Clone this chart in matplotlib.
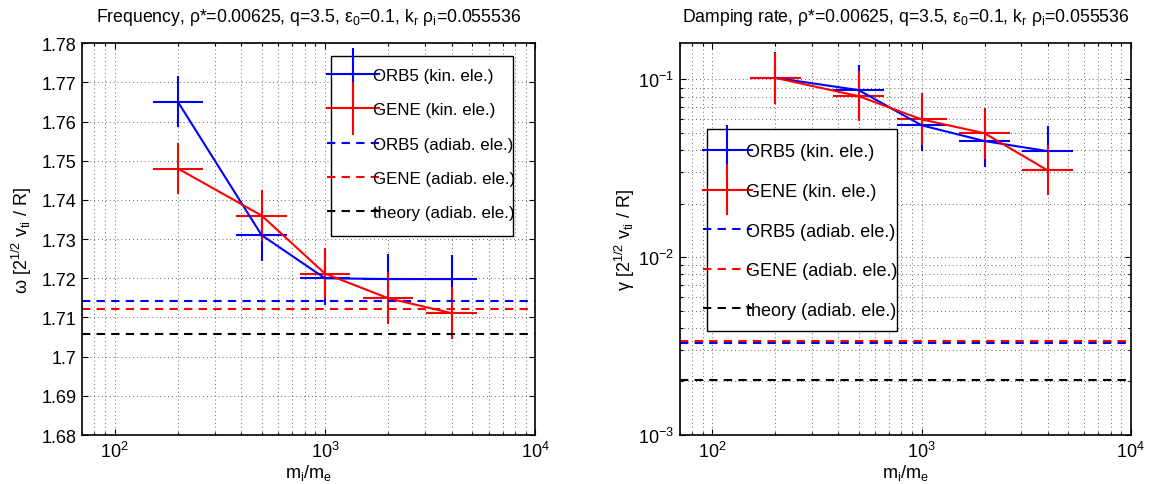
import numpy as np
import matplotlib
matplotlib.use("Agg")
import matplotlib.pyplot as plt
from matplotlib.container import ErrorbarContainer
from matplotlib.legend_handler import HandlerErrorbar
from matplotlib.patches import Rectangle
from matplotlib.ticker import FuncFormatter, LogLocator, MultipleLocator, NullFormatter

plt.rcParams['font.family'] = ['Liberation Sans', 'DejaVu Sans']
plt.rcParams['mathtext.default'] = 'regular'
plt.rcParams['font.size'] = 13

# -----------------------------------------
# data
# -----------------------------------------
mass_ratio = np.array([200, 500, 1000, 2000, 4000])
mass_lo = np.array([152, 379, 759, 1517, 3035])
mass_hi = np.array([264, 659, 1318, 2636, 5272])

# frequency (left)
omega_orb5 = np.array([1.765, 1.731, 1.720, 1.7198, 1.7198])
omega_orb5_err = np.array([0.0065, 0.0065, 0.0068, 0.0063, 0.0062])
omega_gene = np.array([1.748, 1.736, 1.7212, 1.7149, 1.7111])
omega_gene_err = np.array([0.0065, 0.0065, 0.0064, 0.0066, 0.0066])
omega_orb5_adiab = 1.7141
omega_gene_adiab = 1.7121
omega_theory = 1.7058

# damping rate (right)
gamma_orb5 = np.array([0.102, 0.0871, 0.0552, 0.0450, 0.0395])
gamma_orb5_lo = np.array([0.073, 0.058, 0.0395, 0.0323, 0.0286])
gamma_orb5_hi = np.array([0.143, 0.121, 0.078, 0.0622, 0.055])
gamma_gene = np.array([0.102, 0.0805, 0.0596, 0.0498, 0.0308])
gamma_gene_lo = np.array([0.0724, 0.058, 0.0426, 0.0356, 0.0223])
gamma_gene_hi = np.array([0.141, 0.111, 0.0834, 0.0693, 0.0426])
gamma_orb5_adiab = 0.00330
gamma_gene_adiab = 0.00336
gamma_theory = 0.00205

labels = ['ORB5 (kin. ele.)', 'GENE (kin. ele.)', 'ORB5 (adiab. ele.)',
          'GENE (adiab. ele.)', 'theory (adiab. ele.)']

dash = (0, (4, 3))
xerr = [mass_ratio - mass_lo, mass_hi - mass_ratio]


def style_axes(ax, ylog):
    ax.set_xscale('log')
    ax.set_xlim(70, 1e4)
    ax.xaxis.set_major_locator(LogLocator(base=10, numticks=10))
    ax.xaxis.set_minor_locator(LogLocator(base=10, subs=np.arange(2, 10), numticks=20))
    ax.xaxis.set_minor_formatter(NullFormatter())
    ax.tick_params(which='both', direction='in', top=True, right=True, width=0.8, pad=4)
    ax.tick_params(which='major', length=4)
    ax.tick_params(which='minor', length=2)
    ax.grid(True, which='major', linestyle=(0, (1, 3)), color='0.4', lw=0.7)
    ax.grid(True, which='minor', axis='both' if ylog else 'x',
            linestyle=(0, (1, 3)), color='0.4', lw=0.7)
    for sp in ax.spines.values():
        sp.set_linewidth(1.2)
    ax.set_xlabel('m$_i$/m$_e$', labelpad=1)


def add_legend(ax, handles, anchor, box, fsize, spacing, hlen, tpad, err_size):
    # MATLAB style legend: handles poke out of the box, so draw the box by hand
    x0, y0, x1, y1 = box
    ax.add_patch(Rectangle((x0, y0), x1 - x0, y1 - y0, transform=ax.transAxes,
                           facecolor='white', edgecolor='k', lw=1.0, zorder=4.5))
    leg = ax.legend(handles, labels, loc='upper left', bbox_to_anchor=anchor,
                    frameon=False, handlelength=hlen, handletextpad=tpad,
                    labelspacing=spacing, borderpad=0, borderaxespad=0, fontsize=fsize,
                    handler_map={ErrorbarContainer:
                                 HandlerErrorbar(xerr_size=0.3, yerr_size=err_size, numpoints=1)})
    leg.set_zorder(5)
    return leg


fig = plt.figure(figsize=(11.59, 4.85), dpi=100)
ax1 = fig.add_axes([0.0708, 0.101, 0.391, 0.808])
ax2 = fig.add_axes([0.5867, 0.101, 0.389, 0.808])

# -----------------------------------------
# frequency
# -----------------------------------------
eb1 = ax1.errorbar(mass_ratio, omega_orb5, yerr=omega_orb5_err, xerr=xerr,
                   color='b', lw=1.5, capsize=0)
eb2 = ax1.errorbar(mass_ratio, omega_gene, yerr=omega_gene_err, xerr=xerr,
                   color='r', lw=1.5, capsize=0)
h3 = ax1.axhline(omega_orb5_adiab, color='b', lw=1.5, linestyle=dash)
h4 = ax1.axhline(omega_gene_adiab, color='r', lw=1.5, linestyle=dash)
h5 = ax1.axhline(omega_theory, color='k', lw=1.5, linestyle=dash)
style_axes(ax1, False)
ax1.set_ylim(1.68, 1.78)
ax1.yaxis.set_major_locator(MultipleLocator(0.01))
ax1.yaxis.set_major_formatter(FuncFormatter(lambda v, p: '%g' % round(v, 4)))
ax1.set_ylabel(r'$\omega$ [2$^{1/2}$ v$_{ti}$ / R]', labelpad=5)
ax1.set_title(r'Frequency, ρ*=0.00625, q=3.5, ε$_0$=0.1, k$_r$ ρ$_i$=0.055536',
              fontsize=12.7, pad=16)
add_legend(ax1, [eb1, eb2, h3, h4, h5], (0.540, 0.936),
           (0.549, 0.508, 0.951, 0.968), 12.2, 1.13, 3.07, -0.36, 1.55)

# -----------------------------------------
# damping rate
# -----------------------------------------
eb1 = ax2.errorbar(mass_ratio, gamma_orb5,
                   yerr=[gamma_orb5 - gamma_orb5_lo, gamma_orb5_hi - gamma_orb5],
                   xerr=xerr, color='b', lw=1.5, capsize=0)
eb2 = ax2.errorbar(mass_ratio, gamma_gene,
                   yerr=[gamma_gene - gamma_gene_lo, gamma_gene_hi - gamma_gene],
                   xerr=xerr, color='r', lw=1.5, capsize=0)
h3 = ax2.axhline(gamma_orb5_adiab, color='b', lw=1.5, linestyle=dash)
h4 = ax2.axhline(gamma_gene_adiab, color='r', lw=1.5, linestyle=dash)
h5 = ax2.axhline(gamma_theory, color='k', lw=1.5, linestyle=dash)
style_axes(ax2, True)
ax2.set_yscale('log')
ax2.set_ylim(1e-3, 0.16)
ax2.yaxis.set_minor_formatter(NullFormatter())
ax2.set_ylabel(r'$\gamma$ [2$^{1/2}$ v$_{ti}$ / R]', labelpad=1)
ax2.set_title(r'Damping rate, ρ*=0.00625, q=3.5, ε$_0$=0.1, k$_r$ ρ$_i$=0.055536',
              fontsize=12.7, pad=16)
add_legend(ax2, [eb1, eb2, h3, h4, h5], (0.050, 0.744),
           (0.0593, 0.2645, 0.4816, 0.7806), 13, 1.25, 2.75, -0.33, 1.4)

fig.savefig('out.png', dpi=100)
